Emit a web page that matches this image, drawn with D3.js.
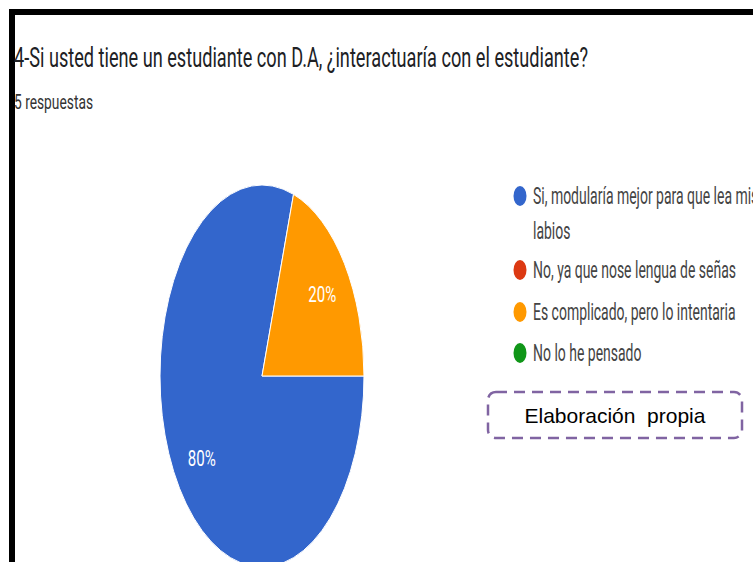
<!DOCTYPE html>
<html>
<head>
<meta charset="utf-8">
<script src="https://cdn.jsdelivr.net/npm/d3@7"></script>
<style>
  html, body { margin: 0; padding: 0; background: #fff; }
  svg { display: block; }
</style>
</head>
<body>
<svg id="chart"></svg>
<script>
// Chart data
const title = '4-Si usted tiene un estudiante con D.A, ¿interactuaría con el estudiante?';
const subtitle = '5 respuestas';
const categories = [
  ['Si, modularía mejor para que lea mis', 'labios'],
  ['No, ya que nose lengua de señas'],
  ['Es complicado, pero lo intentaria'],
  ['No lo he pensado']
];
const counts = [4, 0, 1, 0];
const colors = ['#3366cc', '#dc3912', '#ff9900', '#109618'];
const sourceNote = 'Elaboración  propia';

const width = 753, height = 562;
const svg = d3.select('#chart').attr('width', width).attr('height', height);

// squeeze text horizontally like the stretched screenshot
function fit(sel, w) {
  sel.attr('textLength', w).attr('lengthAdjust', 'spacingAndGlyphs');
}

// frame
svg.append('rect')
  .attr('x', 12).attr('y', 12)
  .attr('width', width + 20).attr('height', height + 20)
  .attr('fill', 'none')
  .attr('stroke', '#000')
  .attr('stroke-width', 6);

// title
const t = svg.append('text')
  .attr('x', 14).attr('y', 67)
  .style('font-family', 'Roboto')
  .style('font-size', '27px')
  .style('fill', '#202124')
  .text(title);
fit(t, 574);

const st = svg.append('text')
  .attr('x', 14).attr('y', 109)
  .style('font-family', 'Roboto')
  .style('font-size', '20px')
  .style('fill', '#333')
  .text(subtitle);
fit(st, 79);

// pie (ellipse, the screenshot is squashed horizontally)
const cx = 262, cy = 376, ry = 191, rx = 102;
const sx = rx / ry;
const total = d3.sum(counts);
const pieData = d3.pie()
  .sort(null)
  .startAngle(Math.PI / 2)
  .endAngle(Math.PI / 2 + 2 * Math.PI)(counts);

const arc = d3.arc().innerRadius(0).outerRadius(ry);
const labelArc = d3.arc().innerRadius(ry * 0.73).outerRadius(ry * 0.73);

const pg = svg.append('g')
  .attr('transform', `translate(${cx},${cy}) scale(${sx},1)`);

pg.selectAll('path')
  .data(pieData.filter(d => d.value > 0))
  .enter()
  .append('path')
  .attr('d', arc)
  .attr('fill', d => colors[d.index])
  .attr('stroke', '#fff')
  .attr('stroke-width', 1)
  .attr('vector-effect', 'non-scaling-stroke');

pieData.filter(d => d.value > 0).forEach(d => {
  const [lx, ly] = labelArc.centroid(d);
  const lbl = svg.append('text')
    .attr('x', cx + lx * sx)
    .attr('y', cy + ly + 8)
    .attr('text-anchor', 'middle')
    .style('font-family', 'Roboto')
    .style('font-size', '22px')
    .style('fill', '#fff')
    .text(Math.round(d.value / total * 100) + '%');
  fit(lbl, 28);
});

// legend
const rowY = [196, 270, 312, 353];
const legend = svg.append('g');
const texts = [];
categories.forEach((lines, i) => {
  legend.append('ellipse')
    .attr('cx', 520).attr('cy', rowY[i])
    .attr('rx', 6.5).attr('ry', 10)
    .attr('fill', colors[i]);
  lines.forEach((line, j) => {
    const tx = legend.append('text')
      .attr('x', 533).attr('y', rowY[i] + 8 + j * 35)
      .style('font-family', 'Roboto')
      .style('font-size', '23px')
      .style('fill', '#444')
      .text(line);
    texts.push(tx);
  });
});
// scale factor taken from the row "No, ya que nose lengua de señas" (203px wide)
const k = 203 / texts[2].node().getComputedTextLength();
texts.forEach(tx => fit(tx, tx.node().getComputedTextLength() * k));

// source note box
svg.append('rect')
  .attr('x', 488).attr('y', 392)
  .attr('width', 254).attr('height', 46)
  .attr('rx', 8).attr('ry', 8)
  .attr('fill', '#fff')
  .attr('stroke', '#8064a2')
  .attr('stroke-width', 2.5)
  .attr('stroke-dasharray', '11,7');

svg.append('text')
  .attr('x', 615).attr('y', 423)
  .attr('text-anchor', 'middle')
  .attr('xml:space', 'preserve')
  .style('white-space', 'pre')
  .style('font-family', 'Liberation Sans, Arial')
  .style('font-size', '21px')
  .style('fill', '#000')
  .text(sourceNote);
</script>
</body>
</html>
